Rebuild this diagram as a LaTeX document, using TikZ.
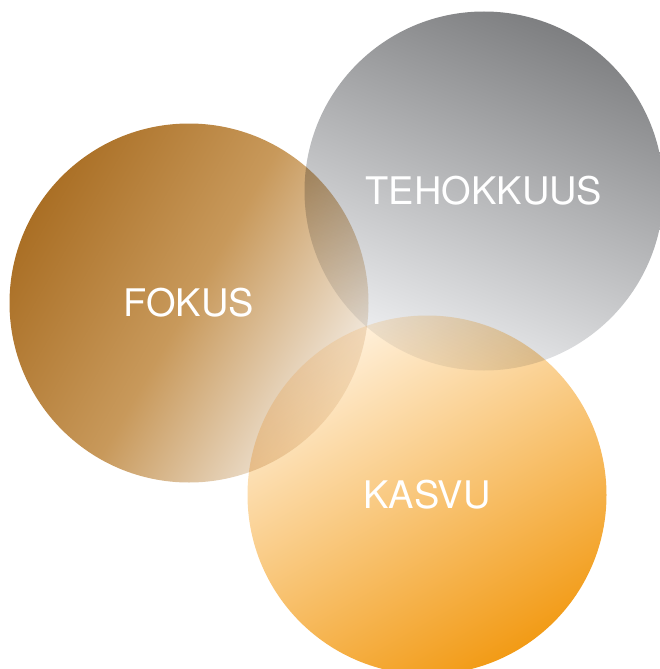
\documentclass[tikz,border=0pt]{standalone}
\usepackage{fontspec}
\setmainfont{TeX Gyre Heros}
\definecolor{fokusdark}{HTML}{AA6F25}
\definecolor{fokusmid}{HTML}{C8995B}
\definecolor{fokuslight}{HTML}{F3EBE1}
\definecolor{tehodark}{HTML}{7E7F81}
\definecolor{teholight}{HTML}{EEEFF1}
\definecolor{kasvulight}{HTML}{FFF0DA}
\definecolor{kasvudark}{HTML}{F29B16}
\begin{document}
\begin{tikzpicture}[x=1pt,y=-1pt,
    ball/.style={circle, inner sep=0pt, minimum size=359pt},
    caption/.style={text=white, inner sep=0pt, font=\fontsize{38}{38}\selectfont}]
    \useasboundingbox (0,0) rectangle (660,669);
    \begin{scope}[blend mode=multiply]
      \node [ball, top color=fokusdark, bottom color=fokuslight, middle color=fokusmid, shading angle=60] (fokus) at (189,303) {};
      \node [ball, top color=tehodark, bottom color=teholight, shading angle=-22] (tehokkuus) at (484,191) {};
      \node [ball, top color=kasvulight, bottom color=kasvudark, shading angle=30] (kasvu) at (427,495) {};
    \end{scope}
    \node [caption] (fokustext) at (fokus) {FOKUS};
    \node [caption] (tehokkuustext) at (tehokkuus) {TEHOKKUUS};
    \node [caption] (kasvutext) at (kasvu) {KASVU};
  \end{tikzpicture}
\end{document}
